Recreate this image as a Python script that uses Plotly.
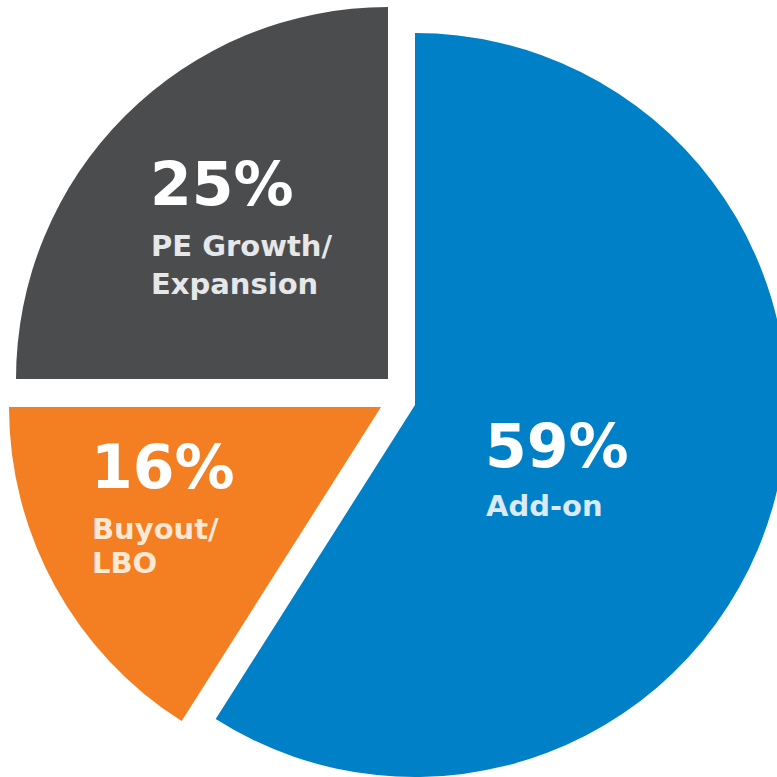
import plotly.graph_objects as go

# ---- data ----
categories = ["Add-on", "Buyout/LBO", "PE Growth/Expansion"]
values = [59, 16, 25]
label_lines = [["Add-on"], ["Buyout/", "LBO"], ["PE Growth/", "Expansion"]]

# ---- style ----
colors = ["#0080C6", "#F47E22", "#4B4C4E"]
label_colors = ["#DAEAF6", "#FDE8D6", "#E6E7E8"]
FONT = "DejaVu Sans"

W = H = 800
R = 372
# apex (screen px) of each exploded slice
apex = [(415, 405), (381, 407), (388, 379)]
# text layout: (left x, cap-centre y of percentage, [cap-centre y of each label line])
text_pos = [
    (486, 445, [505]),
    (92, 466, [528, 562]),
    (151, 183, [245, 283]),
]

fig = go.Figure()
for i, (cx, cy) in enumerate(apex):
    cols = [colors[j] if j == i else "rgba(0,0,0,0)" for j in range(len(values))]
    fig.add_trace(go.Pie(
        labels=categories,
        values=values,
        sort=False,
        direction="clockwise",
        rotation=0,
        marker=dict(colors=cols, line=dict(width=0)),
        textinfo="none",
        hoverinfo="skip",
        showlegend=False,
        domain=dict(
            x=[(cx - R) / W, (cx + R) / W],
            y=[1 - (cy + R) / H, 1 - (cy - R) / H],
        ),
    ))

annotations = []
for i, v in enumerate(values):
    lx, py, lys = text_pos[i]
    annotations.append(dict(
        text=f"{v}%", x=(lx - 3) / W, y=1 - (py + 1) / H,
        xref="paper", yref="paper", xanchor="left", yanchor="middle",
        showarrow=False,
        font=dict(family=FONT, size=60, color="white", weight="bold"),
    ))
    for line, ly in zip(label_lines[i], lys):
        annotations.append(dict(
            text=line, x=(lx - 2) / W, y=1 - (ly + 0.5) / H,
            xref="paper", yref="paper", xanchor="left", yanchor="middle",
            showarrow=False,
            font=dict(family=FONT, size=29, color=label_colors[i], weight="bold"),
        ))

fig.update_layout(
    width=W, height=H,
    margin=dict(l=0, r=0, t=0, b=0),
    paper_bgcolor="white",
    plot_bgcolor="white",
    annotations=annotations,
)

fig.write_html(
    "out.html",
    post_script="document.documentElement.style.overflow='hidden';document.body.style.overflow='hidden';",
)
